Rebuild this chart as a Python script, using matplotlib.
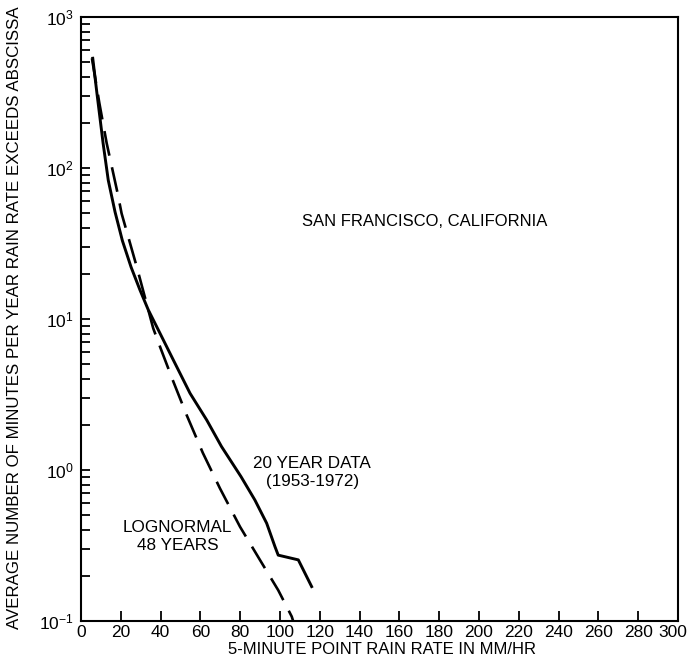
import matplotlib
matplotlib.use("Agg")
import matplotlib.pyplot as plt
import matplotlib.transforms as mtrans
from matplotlib.ticker import FixedLocator, LogLocator, NullFormatter

plt.rcParams['font.family'] = ['Liberation Sans', 'DejaVu Sans']
plt.rcParams['mathtext.fontset'] = 'custom'
plt.rcParams['mathtext.rm'] = 'Liberation Sans'
plt.rcParams['mathtext.it'] = 'Liberation Sans'

# 20 year data (1953-1972)
data_x = [5.9, 8.0, 11.1, 13.7, 17.1, 20.8, 25.2, 29.6, 33.8, 39.7, 46.4, 54.8,
          63.2, 70.6, 80.4, 87.4, 93.3, 97.5, 99.1, 109.2, 115.9]
data_y = [533, 313, 146, 83, 51.2, 33.0, 22.0, 15.6, 11.5, 8.04, 5.35, 3.22,
          2.14, 1.43, 0.904, 0.632, 0.444, 0.31, 0.273, 0.254, 0.169]

# Lognormal 48 years
logn_x = [5.5, 9.2, 12.9, 18.4, 20.4, 28.0, 36.3, 40.0, 46.1, 53.1, 61.2,
          69.8, 79.9, 89.9, 99.1, 105.9, 106.6]
logn_y = [533, 270, 146, 68, 50, 22.2, 8.67, 6.4, 3.94, 2.31, 1.30,
          0.757, 0.421, 0.254, 0.160, 0.107, 0.10]

x_ticks = list(range(0, 301, 20))
y_ticks = [0.1, 1, 10, 100, 1000]
y_tick_labels = [r'$\mathregular{10^{-1}}$', r'$\mathregular{10^{0}}$',
                 r'$\mathregular{10^{1}}$', r'$\mathregular{10^{2}}$',
                 r'$\mathregular{10^{3}}$']

fig = plt.figure(figsize=(6.89, 6.64), dpi=100)
ax = fig.add_axes([81/689, 43/664, 597/689, 604/664])

ax.plot(data_x, data_y, color='black', lw=2.1, solid_joinstyle='round')
ax.plot(logn_x, logn_y, color='black', lw=1.9, dashes=(9.5, 4.5))

ax.set_yscale('log')
ax.set_xlim(0, 300)
ax.set_ylim(0.1, 1000)

ax.xaxis.set_major_locator(FixedLocator(x_ticks))
ax.set_xticklabels([str(v) for v in x_ticks])
ax.yaxis.set_major_locator(FixedLocator(y_ticks))
ax.set_yticklabels(y_tick_labels)
ax.yaxis.set_minor_locator(LogLocator(base=10, subs=range(2, 10)))
ax.yaxis.set_minor_formatter(NullFormatter())

ax.tick_params(axis='x', which='major', direction='in', length=7.5, width=1.3,
               labelsize=12.5, pad=3, top=False)
ax.tick_params(axis='y', which='both', direction='in', length=6.7, width=1.3,
               labelsize=12.5, pad=5, right=False)

# nudge the last x label so it stays inside the figure, as in the reference
last = ax.get_xticklabels()[-1]
last.set_transform(last.get_transform() +
                   mtrans.ScaledTranslation(-5/100, 0, fig.dpi_scale_trans))

for s in ax.spines.values():
    s.set_linewidth(1.5)

fs = 12.3
ax.text(110.9, 44, 'SAN FRANCISCO, CALIFORNIA', fontsize=12.0, ha='left', va='center')
ax.text(116, 1.11, '20 YEAR DATA', fontsize=fs, ha='center', va='center')
ax.text(116.5, 0.834, '(1953-1972)', fontsize=fs, ha='center', va='center')
ax.text(48.5, 0.413, 'LOGNORMAL', fontsize=fs, ha='center', va='center')
ax.text(48.5, 0.314, '48 YEARS', fontsize=fs, ha='center', va='center')

fig.text(382/689, 1 - 650/664, '5-MINUTE POINT RAIN RATE IN MM/HR',
         fontsize=12, ha='center', va='center')
fig.text(15/689, 1 - 318/664,
         'AVERAGE NUMBER OF MINUTES PER YEAR RAIN RATE EXCEEDS ABSCISSA',
         fontsize=12.2, ha='center', va='center', rotation=90)

fig.savefig('out.png', dpi=100)
